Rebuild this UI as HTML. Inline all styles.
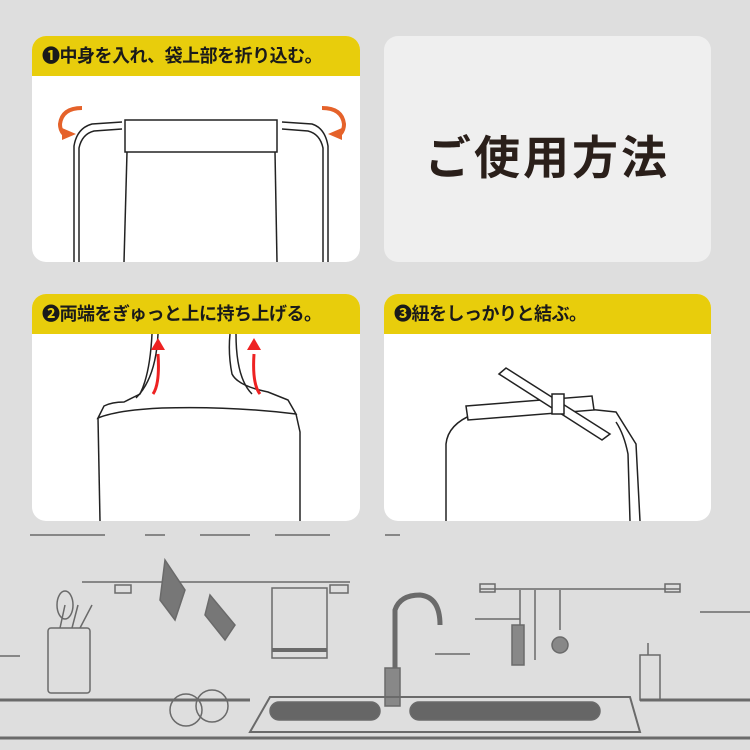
<!DOCTYPE html>
<html><head><meta charset="utf-8"><style>
body{margin:0;width:750px;height:750px;background:#dedede;overflow:hidden;position:relative;font-family:"Liberation Sans","Noto Sans CJK JP",sans-serif}
.p{position:absolute;background:#fff;border-radius:14px;overflow:hidden}
.h{background:#e8cd0c;height:40px;line-height:40px;font-weight:bold;font-size:18px;color:#1a1a1a;padding-left:10px;white-space:nowrap;letter-spacing:-0.5px}
svg{position:absolute;left:0;top:0}
</style></head><body>
<div class="p" style="left:32px;top:36px;width:328px;height:226px"><div class="h">❶中身を入れ、袋上部を折り込む。</div>
<svg width="328" height="226" fill="none" stroke="#222" stroke-width="1.5">
<path d="M42 226 L42 110 Q45 92 60 88 L90 86"/><path d="M47 226 L47 112 Q50 98 62 95 L90 93"/>
<path d="M296 226 L296 110 Q293 92 280 88 L250 86"/><path d="M291 226 L291 112 Q288 98 276 95 L250 93"/>
<rect x="93" y="84" width="152" height="32"/>
<path d="M95 116 L92 226"/><path d="M243 116 L245 226"/>
<g stroke="#e5622a" stroke-width="4"><path d="M50 72 Q30 72 28 88 Q28 96 34 100"/><path d="M290 72 Q310 72 312 88 Q312 96 306 100"/></g>
<g fill="#e5622a" stroke="none"><path d="M30 104 L44 98 L30 92Z"/><path d="M310 104 L296 98 L310 92Z"/></g>
</svg></div>
<div class="p" style="left:384px;top:36px;width:327px;height:226px;background:#efefef">
<div style="position:absolute;left:0;right:0;top:86px;text-align:center;font-size:46px;font-weight:bold;color:#2a1f1a;letter-spacing:3px">ご使用方法</div></div>
<div class="p" style="left:32px;top:294px;width:328px;height:227px"><div class="h">❷両端をぎゅっと上に持ち上げる。</div>
<svg width="328" height="227" fill="none" stroke="#222" stroke-width="1.5">
<path d="M120 40 Q118 80 108 100 L92 108 Q80 108 72 112 L66 124 Q86 116 130 114 Q200 112 264 120 L256 106 L236 98 Q206 92 200 80 Q196 60 198 40"/>
<path d="M126 40 Q124 84 104 104"/><path d="M204 40 Q204 84 220 100"/>
<path d="M66 124 L68 227"/><path d="M264 120 L268 138 L268 227"/>
<g stroke="#e22" stroke-width="3"><path d="M121 100 Q128 90 126 60"/><path d="M228 100 Q220 90 222 60"/></g>
<g fill="#e22" stroke="none"><path d="M119 56 L126 44 L133 56Z"/><path d="M215 56 L222 44 L229 56Z"/></g>
</svg></div>
<div class="p" style="left:384px;top:294px;width:327px;height:227px"><div class="h">❸紐をしっかりと結ぶ。</div>
<svg width="327" height="227" fill="none" stroke="#222" stroke-width="1.5">
<path d="M62 227 L62 150 Q64 130 90 120 L140 114 Q180 112 232 118 L252 150 L256 227"/>
<path d="M246 227 L244 160 Q240 140 232 128"/>
<polygon points="82,112 208,102 210,116 84,126" fill="#fff"/>
<polygon points="115,80 122,74 226,140 218,146" fill="#fff"/>
<rect x="168" y="100" width="12" height="20" fill="#fff"/>
</svg></div>
<svg width="750" height="750" style="position:absolute;left:0;top:0" fill="none" stroke="#6a6a6a" stroke-width="1.5">
<path d="M30 535 H105 M145 535 H165 M200 535 H250 M275 535 H330 M385 535 H400"/>
<path d="M82 582 H250 M117 582 H350"/><rect x="115" y="585" width="16" height="8"/><rect x="330" y="585" width="18" height="8"/>
<path d="M480 589 H680"/><rect x="480" y="584" width="15" height="8"/><rect x="665" y="584" width="15" height="8"/>
<path d="M165 560 L185 590 L175 620 L160 600Z M210 595 L235 625 L225 640 L205 615Z" fill="#777"/>
<rect x="272" y="588" width="55" height="70"/><path d="M272 650 H327" stroke-width="4"/>
<rect x="48" y="628" width="42" height="65" rx="3"/><path d="M60 628 L65 605 M72 628 L78 605 M80 628 L92 605"/>
<ellipse cx="65" cy="605" rx="8" ry="14"/>
<circle cx="186" cy="710" r="16"/><circle cx="212" cy="706" r="16"/>
<path d="M395 680 V610 Q400 595 420 595 Q440 597 440 625" stroke-width="5"/>
<rect x="385" y="668" width="15" height="38" fill="#888"/>
<path d="M250 732 L270 697 H630 L640 732Z" stroke-width="2"/>
<rect x="270" y="702" width="110" height="18" rx="9" fill="#666"/><rect x="410" y="702" width="190" height="18" rx="9" fill="#666"/>
<rect x="640" y="655" width="20" height="45"/><path d="M648 655 V643"/>
<path d="M520 590 V650 M535 590 V660 M560 590 V630"/><rect x="512" y="625" width="12" height="40" fill="#888"/><circle cx="560" cy="645" r="8" fill="#888"/>
<path d="M0 700 H250 M640 700 H750 M0 738 H750" stroke-width="3"/>
<path d="M435 654 H470 M475 619 H520 M700 612 H750 M0 656 H20"/>
</svg>
</body></html>
